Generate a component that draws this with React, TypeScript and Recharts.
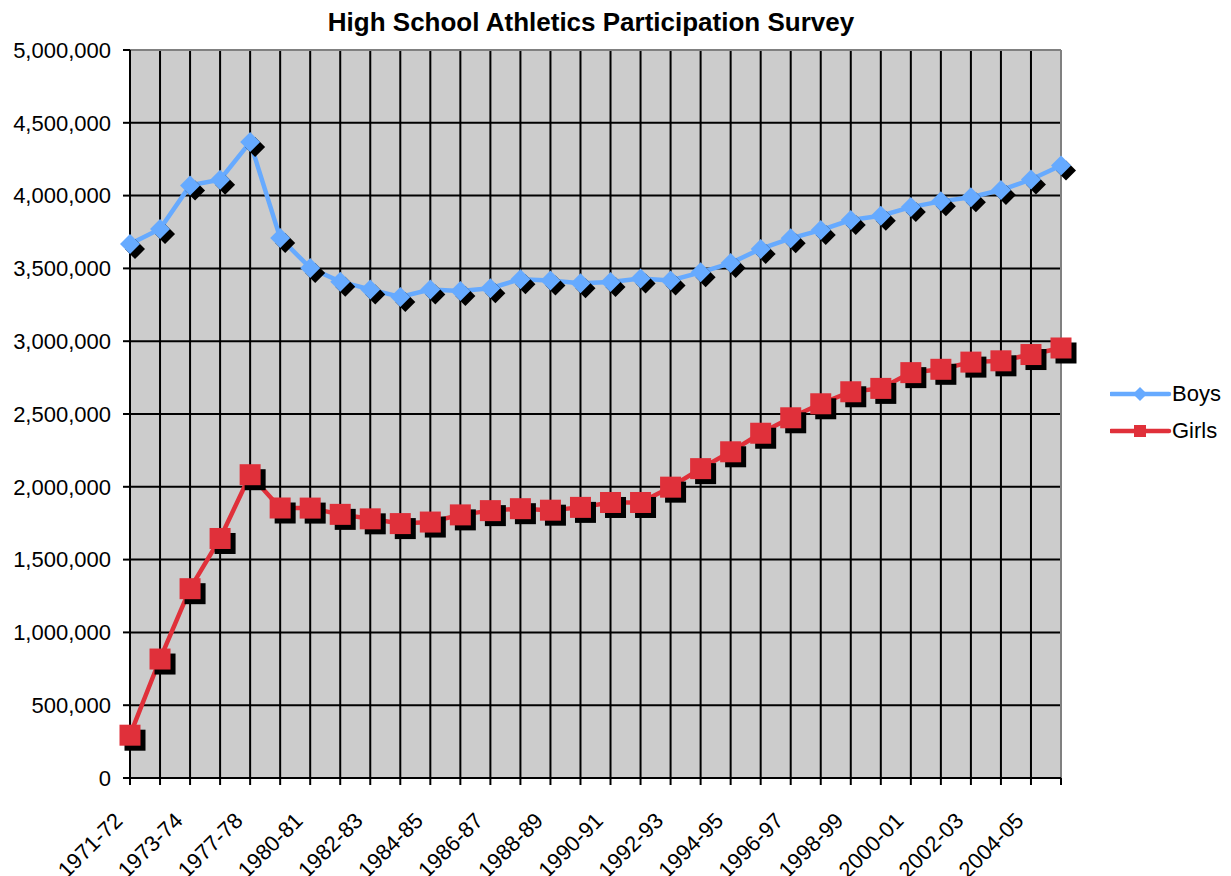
import React from 'react';
import { LineChart, Line, XAxis, YAxis, CartesianGrid, ReferenceLine } from 'recharts';

const seasons = [
  '1971-72', '1972-73', '1973-74', '1975-76', '1977-78', '1978-79', '1980-81', '1981-82',
  '1982-83', '1983-84', '1984-85', '1985-86', '1986-87', '1987-88', '1988-89', '1989-90',
  '1990-91', '1991-92', '1992-93', '1993-94', '1994-95', '1995-96', '1996-97', '1997-98',
  '1998-99', '1999-00', '2000-01', '2001-02', '2002-03', '2003-04', '2004-05', '2005-06',
];

const boys = [
  3666917, 3770621, 4070125, 4109021, 4367442, 3709512, 3503124, 3409081,
  3355558, 3303599, 3354284, 3344275, 3364082, 3425777, 3416389, 3398192,
  3406355, 3429853, 3416844, 3472967, 3536359, 3634052, 3706225, 3763120,
  3832352, 3861749, 3921069, 3960517, 3988738, 4038253, 4110319, 4206549,
];

const girls = [
  294015, 817073, 1300169, 1645039, 2083040, 1854400, 1853789, 1810671,
  1779972, 1747346, 1757884, 1807121, 1836356, 1849684, 1839352, 1858659,
  1892316, 1892316, 1997489, 2124755, 2240461, 2367936, 2474043, 2570271,
  2652726, 2675874, 2784154, 2806998, 2856358, 2865299, 2908390, 2953355,
];

const yTicks = [0, 500000, 1000000, 1500000, 2000000, 2500000, 3000000, 3500000, 4000000, 4500000, 5000000];

const BOYS = '#66aaff';
const GIRLS = '#e0303a';
const FONT = '"Liberation Sans", Arial, sans-serif';

const data = seasons.map((s, i) => ({ season: s, Boys: boys[i], Girls: girls[i] }));

const Diamond = (props: any) => {
  const { cx, cy } = props;
  if (cx == null || cy == null) return null;
  const r = 10;
  const pts = (dx: number, dy: number) =>
    `${cx + dx},${cy + dy - r} ${cx + dx + r},${cy + dy} ${cx + dx},${cy + dy + r} ${cx + dx - r},${cy + dy}`;
  return (
    <g>
      <polygon points={pts(5, 5)} fill="#000" />
      <polygon points={pts(0, 0)} fill={BOYS} />
    </g>
  );
};

const Square = (props: any) => {
  const { cx, cy } = props;
  if (cx == null || cy == null) return null;
  const h = 10.5;
  return (
    <g>
      <rect x={cx - h + 5} y={cy - h + 5} width={h * 2} height={h * 2} fill="#000" />
      <rect x={cx - h} y={cy - h} width={h * 2} height={h * 2} fill={GIRLS} />
    </g>
  );
};

// every category gets a tick mark, only every other one a label
const XTick = (props: any) => {
  const { x, payload } = props;
  const idx = props.index ?? payload.index;
  if (idx % 2 !== 0) return null;
  return (
    <text
      transform={`translate(${x - 6},822) rotate(-45)`}
      textAnchor="end"
      fontSize={22}
      fontFamily={FONT}
      fill="#000"
    >
      {payload.value}
    </text>
  );
};

const LegendRow = ({ color, label, square }: { color: string; label: string; square?: boolean }) => (
  <div style={{ display: 'flex', alignItems: 'center', height: 37 }}>
    <svg width={62} height={20} style={{ display: 'block' }}>
      <line x1={1} y1={10} x2={59} y2={10} stroke={color} strokeWidth={4.5} strokeLinecap="round" />
      {square ? (
        <rect x={24} y={4} width={12} height={12} fill={color} />
      ) : (
        <polygon points="30,3 37,10 30,17 23,10" fill={color} />
      )}
    </svg>
    <span style={{ fontSize: 22, fontFamily: FONT, color: '#000', lineHeight: '26px' }}>{label}</span>
  </div>
);

export default function App() {
  return (
    <div style={{ position: 'absolute', left: 0, top: 0, width: 1231, height: 876, background: '#fff', overflow: 'hidden' }}>
      <div
        style={{
          position: 'absolute',
          left: 0,
          top: 7,
          width: 1182,
          textAlign: 'center',
          fontFamily: FONT,
          fontWeight: 'bold',
          fontSize: 26,
          lineHeight: '30px',
          color: '#000',
        }}
      >
        High School Athletics Participation Survey
      </div>
      <LineChart width={1231} height={876} data={data} margin={{ top: 50, right: 170, bottom: 0, left: 0 }}>
        <CartesianGrid stroke="#000" strokeWidth={2} fill="#cccccc" fillOpacity={1} />
        <XAxis
          dataKey="season"
          interval={0}
          height={98}
          tickSize={7}
          tickMargin={0}
          tick={<XTick />}
          axisLine={{ stroke: '#000', strokeWidth: 2 }}
          tickLine={{ stroke: '#000', strokeWidth: 2 }}
        />
        <YAxis
          domain={[0, 5000000]}
          ticks={yTicks}
          width={130}
          tickSize={7}
          tickMargin={12}
          tickFormatter={(v: number) => v.toLocaleString('en-US')}
          tick={{ fill: '#000', fontSize: 22, fontFamily: FONT }}
          axisLine={{ stroke: '#000', strokeWidth: 2 }}
          tickLine={{ stroke: '#000', strokeWidth: 2 }}
        />
        <ReferenceLine y={5000000} stroke="#808080" strokeWidth={2} />
        <ReferenceLine x="2005-06" stroke="#808080" strokeWidth={2} />
        <Line
          type="linear"
          dataKey="Boys"
          stroke={BOYS}
          strokeWidth={4.5}
          dot={<Diamond />}
          activeDot={false}
          isAnimationActive={false}
        />
        <Line
          type="linear"
          dataKey="Girls"
          stroke={GIRLS}
          strokeWidth={4.5}
          dot={<Square />}
          activeDot={false}
          isAnimationActive={false}
        />
      </LineChart>
      <div style={{ position: 'absolute', left: 1110, top: 375 }}>
        <LegendRow color={BOYS} label="Boys" />
        <LegendRow color={GIRLS} label="Girls" square />
      </div>
    </div>
  );
}
